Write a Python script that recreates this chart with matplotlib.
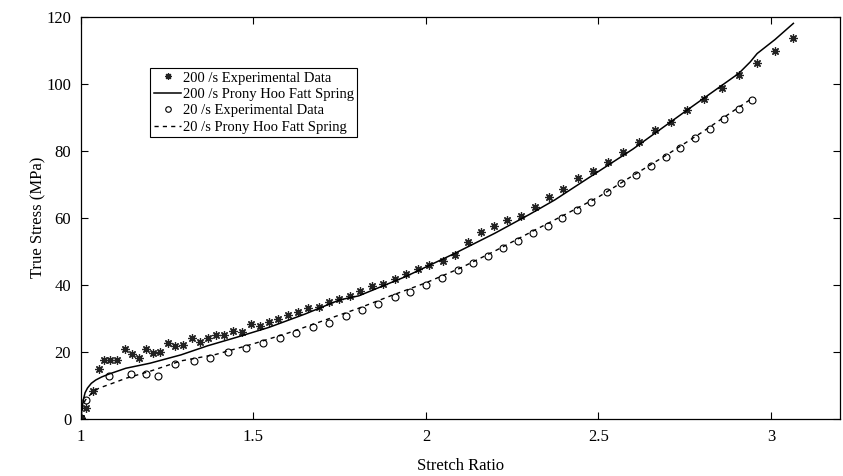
import matplotlib
matplotlib.use('Agg')
import matplotlib.pyplot as plt

plt.rcParams['font.family'] = ['Liberation Serif', 'DejaVu Serif']

# 200 /s experimental data (stars)
exp200_x = [1.0, 1.014, 1.034, 1.051, 1.066, 1.085, 1.106, 1.127, 1.148, 1.167, 1.19, 1.21, 1.23,
            1.252, 1.273, 1.297, 1.321, 1.344, 1.367, 1.392, 1.416, 1.442, 1.466, 1.493, 1.519,
            1.545, 1.572, 1.601, 1.630, 1.659, 1.69, 1.719, 1.747, 1.779, 1.81, 1.844, 1.875,
            1.909, 1.943, 1.978, 2.010, 2.048, 2.084, 2.121, 2.159, 2.197, 2.236, 2.275, 2.315,
            2.356, 2.396, 2.44, 2.483, 2.527, 2.572, 2.618, 2.663, 2.711, 2.758, 2.806, 2.857,
            2.907, 2.96, 3.012, 3.065]
exp200_y = [0.3, 3.3, 8.4, 14.8, 17.6, 17.6, 17.6, 20.9, 19.4, 18.3, 20.9, 19.8, 20.1,
            22.6, 21.6, 21.9, 24.1, 22.9, 24.1, 25.1, 25.1, 26.3, 25.9, 28.2, 27.7,
            29.0, 29.7, 31.0, 32.0, 33.0, 33.5, 35.0, 35.7, 36.8, 38.3, 39.7, 40.2,
            41.7, 43.2, 44.6, 45.9, 47.1, 48.9, 52.7, 55.7, 57.6, 59.3, 60.5, 63.3,
            66.3, 68.5, 71.8, 74.0, 76.6, 79.7, 82.5, 86.2, 88.7, 92.2, 95.4, 98.6,
            102.6, 106.1, 109.8, 113.7]

# 200 /s Prony Hoo Fatt Spring model (solid)
fit200_x = [1.0, 1.003, 1.007, 1.012, 1.019, 1.03, 1.043, 1.06, 1.082, 1.13, 1.2, 1.29, 1.367,
            1.45, 1.545, 1.65, 1.75, 1.805, 1.94, 2.084, 2.2, 2.3, 2.373, 2.44, 2.6, 2.758,
            2.907, 2.94, 2.96, 3.012, 3.065]
fit200_y = [0.0, 3.0, 5.7, 7.8, 9.2, 10.6, 11.6, 12.5, 13.4, 15.1, 16.6, 19.1, 21.8,
            24.3, 27.3, 31.3, 35.5, 36.7, 42.4, 49.4, 55.4, 61.0, 65.3, 69.8, 80.5, 92.2,
            103.1, 106.5, 109.0, 113.2, 118.0]

# 20 /s experimental data (circles)
exp20_x = [1.0, 1.014, 1.08, 1.144, 1.19, 1.223, 1.274, 1.327, 1.375, 1.427, 1.478, 1.528,
           1.576, 1.624, 1.672, 1.72, 1.767, 1.815, 1.861, 1.909, 1.955, 2.0, 2.046, 2.092,
           2.135, 2.18, 2.224, 2.267, 2.311, 2.354, 2.394, 2.438, 2.479, 2.525, 2.565, 2.609,
           2.652, 2.695, 2.736, 2.779, 2.823, 2.863, 2.907, 2.945]
exp20_y = [0.3, 5.5, 12.8, 13.3, 13.3, 12.9, 16.3, 17.3, 18.1, 20.1, 21.1, 22.6,
           24.1, 25.7, 27.3, 28.7, 30.6, 32.5, 34.2, 36.3, 38.0, 40.0, 42.1, 44.4,
           46.4, 48.6, 50.9, 53.2, 55.4, 57.4, 59.9, 62.3, 64.8, 67.6, 70.3, 72.8,
           75.5, 78.2, 80.9, 83.7, 86.5, 89.5, 92.4, 95.1]

# 20 /s Prony Hoo Fatt Spring model (dashed)
fit20_x = [1.0, 1.005, 1.012, 1.024, 1.04, 1.053, 1.091, 1.13, 1.2, 1.29, 1.39, 1.5, 1.6,
           1.7, 1.805, 1.9, 2.0, 2.1, 2.2, 2.3, 2.4, 2.5, 2.6, 2.7, 2.8, 2.9, 2.945]
fit20_y = [0.0, 3.3, 5.5, 6.9, 8.4, 9.2, 10.6, 12.1, 14.2, 17.3, 19.2, 22.4, 25.6,
           29.2, 33.0, 36.8, 40.6, 45.0, 50.1, 55.5, 60.8, 66.2, 72.6, 78.9, 85.5, 92.5, 95.6]

fig = plt.figure(figsize=(8.43, 4.76), dpi=100)
ax = fig.add_axes([0.096, 0.12, 0.9004, 0.845])

ax.plot(exp200_x, exp200_y, linestyle='none', marker=(8, 2, 0), markersize=6,
        markeredgewidth=0.9, color='#222222', label='200 /s Experimental Data')
ax.plot(fit200_x, fit200_y, '-', color='black', linewidth=1.1,
        label='200 /s Prony Hoo Fatt Spring')
ax.plot(exp20_x, exp20_y, linestyle='none', marker='o', markersize=5,
        markerfacecolor='none', markeredgecolor='black', markeredgewidth=0.8,
        label='20 /s Experimental Data')
ax.plot(fit20_x, fit20_y, '--', color='black', linewidth=1.0, dashes=(3, 3),
        label='20 /s Prony Hoo Fatt Spring')

ax.set_xlim(1, 3.2)
ax.set_ylim(0, 120)
ax.set_xticks([1, 1.5, 2, 2.5, 3])
ax.set_xticklabels(['1', '1.5', '2', '2.5', '3'])
ax.set_yticks([0, 20, 40, 60, 80, 100, 120])
ax.tick_params(direction='in', top=True, right=True, length=5, labelsize=12, pad=7)
for s in ax.spines.values():
    s.set_linewidth(0.9)

ax.set_xlabel('Stretch Ratio', fontsize=12, labelpad=10)
ax.set_ylabel('True Stress (MPa)', fontsize=12, labelpad=0)

leg = ax.legend(loc='upper left', bbox_to_anchor=(0.091, 0.873), fontsize=10.5,
                frameon=True, fancybox=False, edgecolor='black', framealpha=1,
                handlelength=1.9, handletextpad=0.1, borderpad=0.25, labelspacing=0.22,
                borderaxespad=0, markerscale=0.8)
leg.get_frame().set_linewidth(0.8)

fig.savefig('out.png', dpi=100)
